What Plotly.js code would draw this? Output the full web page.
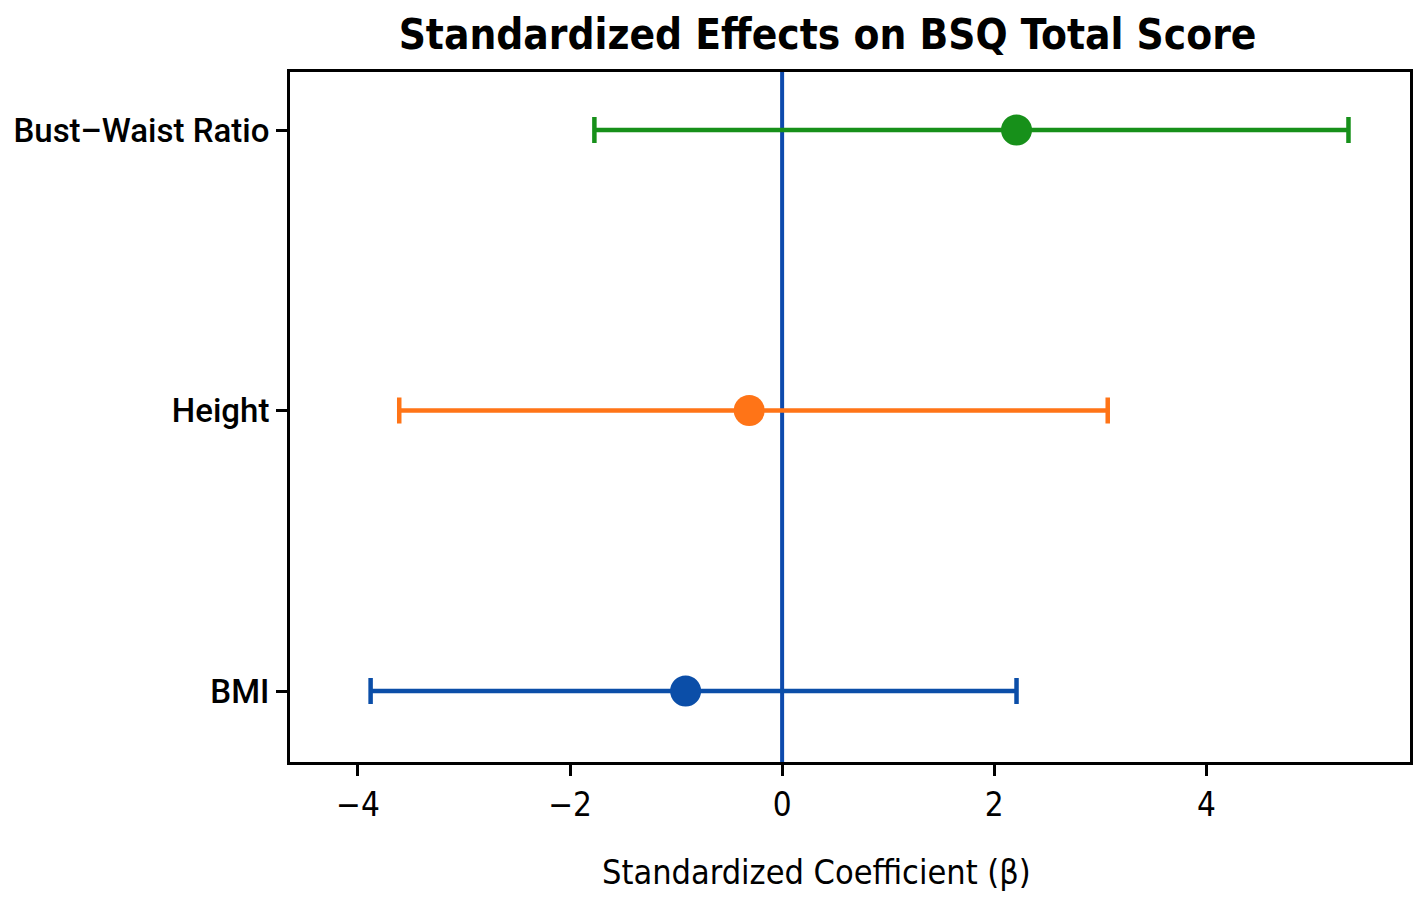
<!DOCTYPE html>
<html>
<head>
<meta charset="utf-8">
<script src="https://cdn.plot.ly/plotly-3.0.1.min.js"></script>
<style>html,body{margin:0;padding:0;background:#fff;}#chart{width:1417px;height:908px;}</style>
</head>
<body>
<div id="chart"></div>
<script>
const predictors = ["BMI", "Height", "Bust\u2013Waist Ratio"];
const beta = [-0.91, -0.31, 2.21];
const ciLow = [-3.88, -3.61, -1.77];
const ciHigh = [2.21, 3.07, 5.34];
const colors = ["#0b4ea8", "#ff7417", "#17901a"];
const xTicks = [-4, -2, 0, 2, 4];
const xTickText = ["\u22124", "\u22122", "0", "2", "4"];

const traces = predictors.map((p, i) => ({
  type: "scatter",
  mode: "markers",
  x: [beta[i]],
  y: [p],
  marker: {color: colors[i], size: 31},
  error_x: {
    type: "data",
    symmetric: false,
    array: [ciHigh[i] - beta[i]],
    arrayminus: [beta[i] - ciLow[i]],
    color: colors[i],
    thickness: 4.5,
    width: 13
  },
  showlegend: false,
  hoverinfo: "x+y"
}));

const cond = "'DejaVu Sans Condensed', 'Liberation Sans', sans-serif";

const layout = {
  width: 1417,
  height: 908,
  paper_bgcolor: "#ffffff",
  plot_bgcolor: "#ffffff",
  margin: {l: 290, r: 7, t: 72, b: 146},
  title: {
    text: "<b>Standardized Effects on BSQ Total Score</b>",
    font: {family: cond, size: 42, color: "#000"},
    x: 0.584, xref: "container", xanchor: "center",
    y: 0.962, yref: "container", yanchor: "middle"
  },
  xaxis: {
    range: [-4.64, 5.92],
    tickvals: xTicks,
    ticktext: xTickText,
    ticks: "outside", ticklen: 11, tickwidth: 3, tickcolor: "#000",
    tickfont: {family: cond, size: 33, color: "#000"},
    showline: true, linecolor: "#000", linewidth: 3, mirror: true,
    showgrid: false, zeroline: false
  },
  yaxis: {
    type: "category",
    categoryorder: "array",
    categoryarray: predictors,
    range: [-0.253, 2.207],
    ticks: "outside", ticklen: 11, tickwidth: 3, tickcolor: "#000",
    tickfont: {family: "Roboto, 'Liberation Sans', sans-serif", size: 33, color: "#000", weight: 500},
    showline: true, linecolor: "#000", linewidth: 3, mirror: true,
    showgrid: false, zeroline: false
  },
  annotations: [{
    text: "Standardized Coefficient (\u03b2)",
    xref: "paper", yref: "paper",
    x: (816 - 290) / 1120, y: -(872 - 762) / 690,
    xanchor: "center", yanchor: "middle",
    showarrow: false,
    font: {family: cond, size: 34, color: "#000"}
  }],
  shapes: [{
    type: "line", xref: "x", yref: "paper",
    x0: 0, x1: 0, y0: 0, y1: 1,
    line: {color: "#0d4aad", width: 4},
    layer: "below"
  }]
};

Plotly.newPlot("chart", traces, layout, {displayModeBar: false, staticPlot: true});
</script>
</body>
</html>
